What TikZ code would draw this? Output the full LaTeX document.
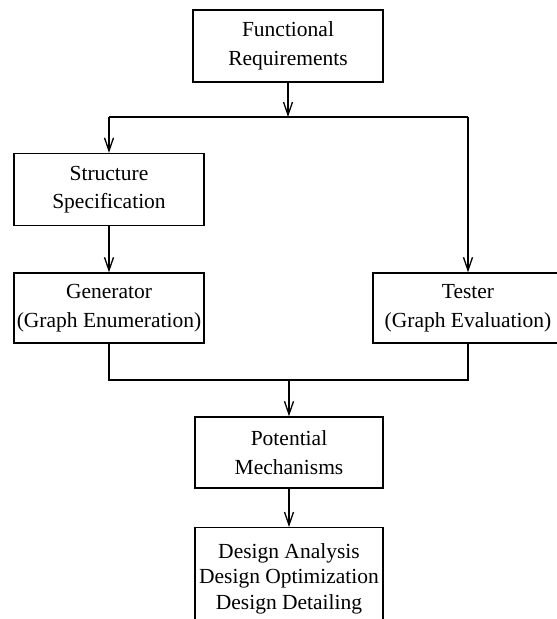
\documentclass[tikz,border=0pt]{standalone}
\usepackage{fontspec}
\setmainfont{Liberation Serif}
\usetikzlibrary{arrows.meta}

\tikzset{
  box/.style={draw,line width=1.4pt,minimum width=190pt,minimum height=72pt,
    inner sep=0pt,align=center,font=\fontsize{21.5}{28.5}\selectfont},
  link/.style={line width=1.4pt},
  flow/.style={link,-{Straight Barb[length=13pt,width=9pt,line width=1.3pt]}}
}

\begin{document}
\begin{tikzpicture}[x=1pt,y=-1pt]
\useasboundingbox (0,0) rectangle (557,619);
\clip (0,0) rectangle (557,619);
% boxes
\node[box] (fr) at (288,46) {Functional\\Requirements};
\node[box] (ss) at (109,189.5) {Structure\\Specification};
\node[box,minimum height=70pt] (gen) at (109,308) {Generator\\(Graph Enumeration)};
\node[box,minimum height=70pt] (tst) at (468,308) {Tester\\(Graph Evaluation)};
\node[box,minimum width=188pt,minimum height=71pt] (pm) at (289,452.5) {Potential\\Mechanisms};
\node[box,minimum width=188pt,minimum height=102pt,anchor=north,
  font=\fontsize{21.5}{25.5}\selectfont] (da) at (289,527)
  {Design Analysis\\Design Optimization\\Design Detailing};
% junctions
\coordinate (top) at (288,117);
\coordinate (topl) at (109,117);
\coordinate (topr) at (468,117);
\coordinate (bot) at (289,380);
% connectors
\draw[flow] (fr) -- (top);
\draw[link] (topl) -- (topr);
\draw[flow] (topl) -- (ss);
\draw[flow] (topr) -- (tst);
\draw[flow] (ss) -- (gen);
\draw[link] (gen.south) |- (bot) -| (tst.south);
\draw[flow] (bot) -- (pm);
\draw[flow] (pm) -- (da);
\end{tikzpicture}
\end{document}
